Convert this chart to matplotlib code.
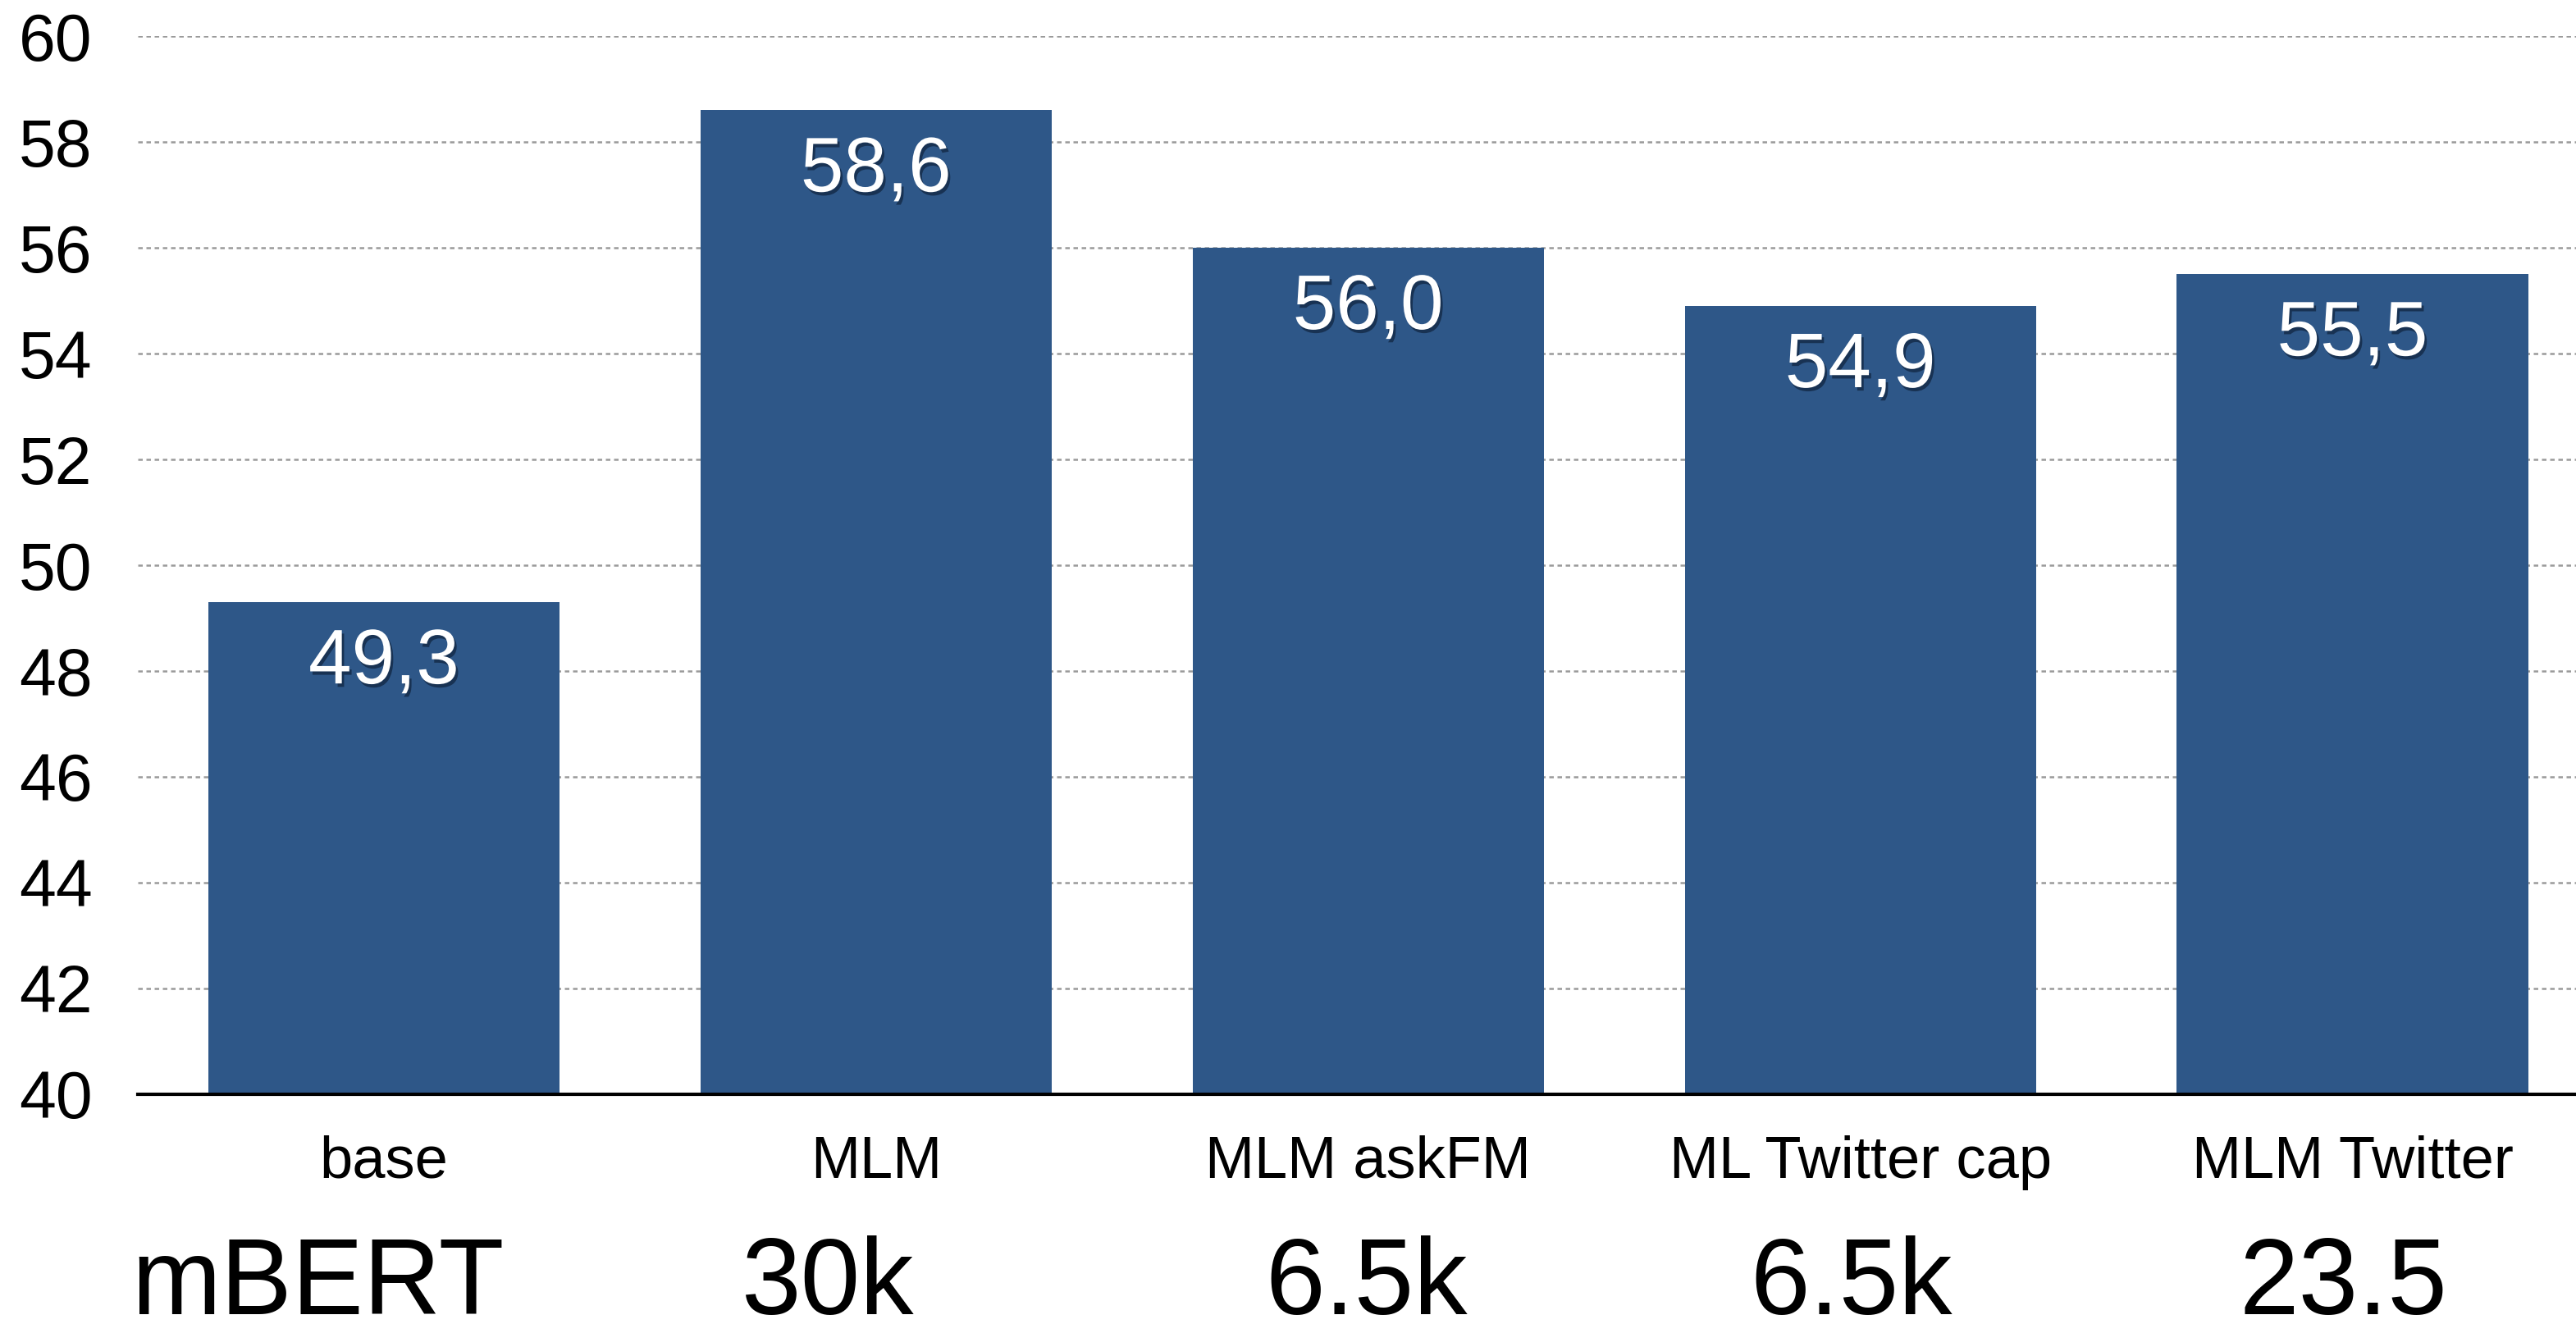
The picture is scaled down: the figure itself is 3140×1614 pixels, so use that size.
import matplotlib
matplotlib.use("Agg")
import matplotlib.pyplot as plt
import matplotlib.patheffects as pe
import matplotlib.transforms as mtransforms
import numpy as np

categories = ["base", "MLM", "MLM askFM", "ML Twitter cap", "MLM Twitter"]
values = [49.3, 58.6, 56.0, 54.9, 55.5]
value_labels = ["49,3", "58,6", "56,0", "54,9", "55,5"]
bottom_labels = ["mBERT", "30k", "6.5k", "6.5k", "23.5"]
yticks = [40, 42, 44, 46, 48, 50, 52, 54, 56, 58, 60]

bar_color = "#2E5788"
fam = ["Liberation Sans", "DejaVu Sans"]

fig = plt.figure(figsize=(31.4, 16.14), dpi=100)
ax = fig.add_axes([0.0535, 0.1735, 0.9465, 0.7992])

x = np.arange(len(categories))
ax.bar(x, values, width=0.714, color=bar_color, zorder=2)

ax.set_ylim(40, 60)
ax.set_xlim(-0.5, 4.454)
ax.set_yticks(yticks)
ax.set_yticklabels([str(t) for t in yticks], fontsize=58, family=fam)
ax.set_xticks(x)
ax.set_xticklabels(categories, fontsize=52, family=fam)
ax.tick_params(axis="y", length=0, pad=40)
ax.tick_params(axis="x", length=0, pad=36)

for t in yticks[1:]:
    ax.axhline(t, color="#9a9a9a", linestyle=(0, (2.2, 1.8)), linewidth=1.8, zorder=1)

for s in ["top", "right", "left"]:
    ax.spines[s].set_visible(False)
ax.spines["bottom"].set_linewidth(3)
ax.spines["bottom"].set_color("black")
ax.spines["bottom"].set_zorder(3)

shadow = [pe.withSimplePatchShadow(offset=(2, -3), shadow_rgbFace="#0a1a30", alpha=0.6)]
for xi, v, lab in zip(x, values, value_labels):
    ax.text(xi, v - 1.535, lab, ha="center", va="baseline", fontsize=68,
            color="white", family=fam, path_effects=shadow, zorder=4)

bottom_offsets = [-0.134, -0.097, -0.003, -0.018, -0.019]
blend = mtransforms.blended_transform_factory(ax.transData, fig.transFigure)
for xi, off, lab in zip(x, bottom_offsets, bottom_labels):
    ax.text(xi + off, 0.0075, lab, transform=blend,
            ha="center", va="baseline", fontsize=94, family=fam, color="black")

fig.savefig("out.png", dpi=100, facecolor="white")
